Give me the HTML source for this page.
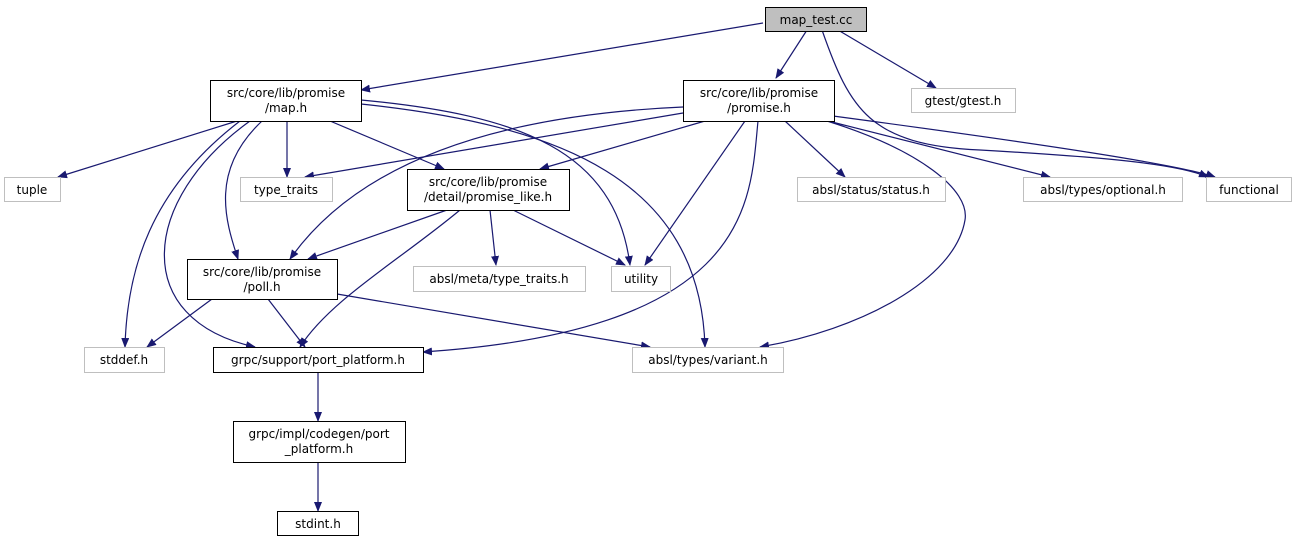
<!DOCTYPE html>
<html><head><meta charset="utf-8"><style>
html,body{margin:0;padding:0;background:#fff;}
svg text{font-family:"DejaVu Sans","Liberation Sans",sans-serif;font-size:12px;fill:#000;}
</style></head><body>
<svg width="1296" height="544" viewBox="0 0 1296 544" xmlns="http://www.w3.org/2000/svg">
<defs><marker id="a" markerWidth="10" markerHeight="8" refX="9" refY="4" orient="auto" markerUnits="userSpaceOnUse"><path d="M0,0 L10,4 L0,8 z" fill="#191970"/></marker></defs>
<g fill="none" stroke="#191970" stroke-width="1.2" marker-end="url(#a)">
<path d="M763,23 L361,90"/>
<path d="M807,30 L776,78"/>
<path d="M838,30 L936,88"/>
<path d="M822,30 C850,110 870,145 980,150 C1120,158 1180,165 1208,177"/>
<path d="M237,121 L58,177"/>
<path d="M287,121 L287,177"/>
<path d="M330,121 L444,169"/>
<path d="M361,100 C520,115 615,150 630,265"/>
<path d="M361,104 C560,125 700,180 705,347"/>
<path d="M262,121 C210,170 225,220 238,259"/>
<path d="M240,121 C150,190 127,270 125,347"/>
<path d="M250,121 C140,200 130,320 255,347"/>
<path d="M683,113 L305,177"/>
<path d="M705,121 L540,169"/>
<path d="M683,107 C500,115 360,160 290,259"/>
<path d="M745,121 L645,265"/>
<path d="M758,121 C750,200 755,330 423,352"/>
<path d="M785,121 L845,177"/>
<path d="M828,121 L1050,177"/>
<path d="M833,116 C1050,145 1180,165 1215,177"/>
<path d="M827,121 C920,150 970,190 965,220 C955,280 860,330 760,347"/>
<path d="M447,210 L308,259"/>
<path d="M460,210 C400,260 330,300 300,347"/>
<path d="M490,210 L496,265"/>
<path d="M513,210 L625,265"/>
<path d="M212,299 L147,347"/>
<path d="M268,299 L305,347"/>
<path d="M337,294 L650,347"/>
<path d="M318,373 L318,421"/>
<path d="M318,463 L318,511"/>
</g>
<g stroke-width="1">
<rect x="765.5" y="7.5" width="101" height="24" fill="#bfbfbf" stroke="#000"/>
<rect x="210.5" y="80.5" width="151" height="41" fill="#fff" stroke="#000"/>
<rect x="683.5" y="80.5" width="151" height="41" fill="#fff" stroke="#000"/>
<rect x="911.5" y="88.5" width="104" height="24" fill="#fff" stroke="#bfbfbf"/>
<rect x="4.5" y="177.5" width="56" height="24" fill="#fff" stroke="#bfbfbf"/>
<rect x="240.5" y="177.5" width="92" height="24" fill="#fff" stroke="#bfbfbf"/>
<rect x="407.5" y="169.5" width="162" height="41" fill="#fff" stroke="#000"/>
<rect x="797.5" y="177.5" width="148" height="24" fill="#fff" stroke="#bfbfbf"/>
<rect x="1023.5" y="177.5" width="159" height="24" fill="#fff" stroke="#bfbfbf"/>
<rect x="1206.5" y="177.5" width="85" height="24" fill="#fff" stroke="#bfbfbf"/>
<rect x="187.5" y="259.5" width="150" height="40" fill="#fff" stroke="#000"/>
<rect x="413.5" y="266.5" width="172" height="25" fill="#fff" stroke="#bfbfbf"/>
<rect x="611.5" y="266.5" width="59" height="25" fill="#fff" stroke="#bfbfbf"/>
<rect x="84.5" y="347.5" width="80" height="25" fill="#fff" stroke="#bfbfbf"/>
<rect x="213.5" y="347.5" width="210" height="25" fill="#fff" stroke="#000"/>
<rect x="632.5" y="347.5" width="151" height="25" fill="#fff" stroke="#bfbfbf"/>
<rect x="233.5" y="421.5" width="172" height="41" fill="#fff" stroke="#000"/>
<rect x="277.5" y="511.5" width="81" height="24" fill="#fff" stroke="#000"/>
</g>
<g text-anchor="middle">
<text x="816" y="24">map_test.cc</text>
<text x="286" y="97">src/core/lib/promise</text><text x="286" y="112">/map.h</text>
<text x="759" y="97">src/core/lib/promise</text><text x="759" y="112">/promise.h</text>
<text x="963" y="105">gtest/gtest.h</text>
<text x="32" y="194">tuple</text>
<text x="286" y="194">type_traits</text>
<text x="488" y="186">src/core/lib/promise</text><text x="488" y="201">/detail/promise_like.h</text>
<text x="871" y="194">absl/status/status.h</text>
<text x="1103" y="194">absl/types/optional.h</text>
<text x="1249" y="194">functional</text>
<text x="262" y="276">src/core/lib/promise</text><text x="262" y="291">/poll.h</text>
<text x="499" y="283">absl/meta/type_traits.h</text>
<text x="641" y="283">utility</text>
<text x="124" y="364">stddef.h</text>
<text x="318" y="364">grpc/support/port_platform.h</text>
<text x="708" y="364">absl/types/variant.h</text>
<text x="319" y="438">grpc/impl/codegen/port</text><text x="319" y="453">_platform.h</text>
<text x="318" y="528">stdint.h</text>
</g>
</svg>
</body></html>
